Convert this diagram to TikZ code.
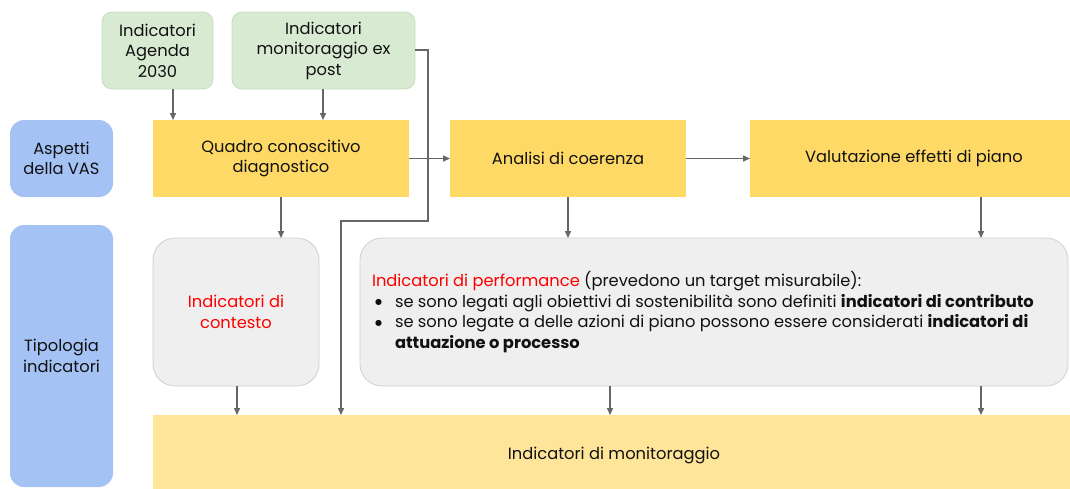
\documentclass[tikz,border=0pt]{standalone}
\usepackage{fontspec}
\setmainfont{Poppins}
\newfontfamily\djfont{DejaVu Sans}
\usetikzlibrary{arrows.meta}
\definecolor{gfill}{HTML}{D9EAD3}
\definecolor{gdraw}{HTML}{C5DDBC}
\definecolor{bfill}{HTML}{A4C2F4}
\definecolor{yfill}{HTML}{FFD966}
\definecolor{lyfill}{HTML}{FFE599}
\definecolor{grfill}{HTML}{EFEFEF}
\definecolor{grdraw}{HTML}{D0D0D0}
\definecolor{arr}{HTML}{666666}
\definecolor{txt}{HTML}{111111}
\definecolor{rd}{HTML}{FF0000}
\tikzset{
  base/.style={inner sep=0pt, outer sep=0pt, align=center, text=txt, font=\fontsize{16.3}{20.5}\selectfont},
  greenbox/.style={base, fill=gfill, draw=gdraw, line width=0.8pt, rounded corners=10pt},
  bluebox/.style={base, fill=bfill, draw=none, rounded corners=14pt},
  yelbox/.style={base, fill=yfill, draw=none},
  lybox/.style={base, fill=lyfill, draw=none},
  graybox/.style={base, fill=grfill, draw=grdraw, line width=0.8pt, rounded corners=22pt},
  conn/.style={draw=arr, line width=1.4pt, -{Triangle[length=7pt,width=6pt]}},
  plain/.style={draw=arr, line width=1.4pt}
}
\newcommand{\mybul}{\makebox[23pt][l]{\hspace{3pt}\raisebox{2.5pt}{\djfont\fontsize{8}{8}\selectfont ●}}}
\begin{document}
\begin{tikzpicture}[x=1pt,y=-1pt]
\useasboundingbox (0,0) rectangle (1070,488);
% boxes
\path[greenbox] (102,12) rectangle (213,89);
\node[base] (agenda) at (157.5,50.5) {Indicatori\\Agenda\\2030};
\coordinate (agendaS) at (173,89);
\path[greenbox] (232,12) rectangle (415,89);
\node[base] (expost) at (323.5,50.5) {Indicatori\\monitoraggio ex\\post};
\coordinate (expostE) at (415,50);
\coordinate (expostS) at (323,89);

\path[bluebox] (10,120) rectangle (113,197);
\node[base] (aspetti) at (61.5,158.5) {Aspetti\\della VAS};
\path[bluebox] (10,225) rectangle (113,487);
\node[base] (tipologia) at (61.5,356) {Tipologia\\indicatori};

\path[yelbox] (153,120) rectangle (409,197);
\node[base] (quadro) at (281,158.5) {Quadro conoscitivo\\diagnostico};
\coordinate (quadroN1) at (173,120);
\coordinate (quadroN2) at (323,120);
\coordinate (quadroE) at (409,158.5);
\coordinate (quadroS) at (281,197);

\path[yelbox] (450,120) rectangle (686,197);
\node[base] (analisi) at (568,158.5) {Analisi di coerenza};
\coordinate (analisiW) at (450,158.5);
\coordinate (analisiE) at (686,158.5);
\coordinate (analisiS) at (568,197);

\path[yelbox] (750,120) rectangle (1072,197);
\node[base] (valut) at (914,158.5) {Valutazione effetti di piano};
\coordinate (valutW) at (750,158.5);
\coordinate (valutS) at (981,197);

\path[graybox] (153,238) rectangle (319,386);
\node[base, text=rd] (contesto) at (236,312) {Indicatori di\\contesto};
\coordinate (contestoN) at (281,238);
\coordinate (contestoS) at (237,386);

\path[graybox] (360,238) rectangle (1068,386);
\node[base, anchor=west, align=left] (perf) at (372,312) {%
{\color{rd}Indicatori di performance} (prevedono un target misurabile):\\
\mybul se sono legati agli obiettivi di sostenibilità sono definiti \textbf{indicatori di contributo}\\
\mybul se sono legate a delle azioni di piano possono essere considerati \textbf{indicatori di}\\
\hspace*{23pt}\textbf{attuazione o processo}};
\coordinate (perfN1) at (568,238);
\coordinate (perfN2) at (981,238);
\coordinate (perfS1) at (610,386);
\coordinate (perfS2) at (981,386);

\path[lybox] (153,415) rectangle (1072,490);
\node[base] (monit) at (614,455) {Indicatori di monitoraggio};
\coordinate (monitN1) at (237,415);
\coordinate (monitN2) at (341,415);
\coordinate (monitN3) at (610,415);
\coordinate (monitN4) at (981,415);

% connectors
\draw[conn] (agendaS) -- (quadroN1);
\draw[conn] (expostS) -- (quadroN2);
\draw[conn] (quadroE) -- (analisiW);
\draw[conn] (analisiE) -- (valutW);
\draw[conn] (quadroS) -- (contestoN);
\draw[conn] (analisiS) -- (perfN1);
\draw[conn] (valutS) -- (perfN2);
\draw[conn] (contestoS) -- (monitN1);
\draw[conn] (perfS1) -- (monitN3);
\draw[conn] (perfS2) -- (monitN4);
\coordinate (b1) at (428,50);
\coordinate (b2) at (428,221);
\coordinate (b3) at (341,221);
\draw[conn] (expostE) -- (b1) -- (b2) -- (b3) -- (monitN2);
\end{tikzpicture}
\end{document}
